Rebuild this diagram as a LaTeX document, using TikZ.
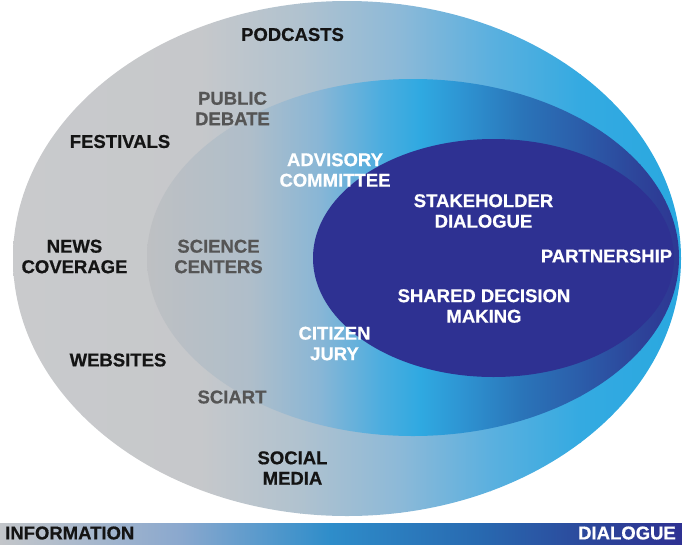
\documentclass[tikz,border=0pt]{standalone}
\usepackage{fontspec}
\setmainfont{Liberation Sans}[BoldFeatures={FakeBold=0.6}]
% palette
\definecolor{inkblack}{HTML}{141414}
\definecolor{inkgray}{HTML}{555555}
\definecolor{navy}{HTML}{2E3192}
% outer ring stops
\definecolor{oA}{HTML}{C9CACC}
\definecolor{oB}{HTML}{C6C8CB}
\definecolor{oC}{HTML}{B0C2CF}
\definecolor{oD}{HTML}{8CB9D8}
\definecolor{oE}{HTML}{5BB0DF}
\definecolor{oF}{HTML}{34AAE1}
\definecolor{oG}{HTML}{29A8E0}
% middle ring stops
\definecolor{mA}{HTML}{BEC0C3}
\definecolor{mB}{HTML}{AFBECA}
\definecolor{mC}{HTML}{88B6D6}
\definecolor{mD}{HTML}{4CADDF}
\definecolor{mE}{HTML}{2FA9E1}
\definecolor{mF}{HTML}{2E95D3}
\definecolor{mG}{HTML}{2A75B9}
\definecolor{mH}{HTML}{2B5DAA}
\definecolor{mI}{HTML}{2D4399}
\definecolor{mJ}{HTML}{2E3592}
% scale bar stops
\definecolor{bA}{HTML}{C3C6CA}
\definecolor{bB}{HTML}{8AA8CE}
\definecolor{bC}{HTML}{2E8DCA}
\definecolor{bD}{HTML}{2869B0}
\definecolor{bE}{HTML}{2C4499}
\definecolor{bF}{HTML}{2E3192}
\begin{document}
\begin{tikzpicture}[x=1pt,y=-1pt,
  lbl/.style={font=\bfseries\fontsize{18.5}{20.5}\selectfont, align=center, inner sep=0pt},
  dark/.style={lbl, text=inkblack},
  mid/.style={lbl, text=inkgray},
  light/.style={lbl, text=white}]
\useasboundingbox (0,0) rectangle (682,544);

% outer ellipse: grey to cyan
\begin{scope}
  \clip (347,258.5) ellipse [x radius=334, y radius=257.5];
  \foreach \xa/\ca/\xb/\cb in {0/oA/13/oA, 13/oA/200/oB, 200/oB/300/oC, 300/oC/400/oD,
      400/oD/490/oE, 490/oE/580/oF, 580/oF/682/oG}
    \shade[left color=\ca, right color=\cb] (\xa,-2) rectangle (\xb+1,520);
\end{scope}

% middle ellipse: grey to cyan to deep blue
\begin{scope}
  \clip (413,257.5) ellipse [x radius=266, y radius=178.5];
  \foreach \xa/\ca/\xb/\cb in {140/mA/147/mA, 147/mA/250/mB, 250/mB/320/mC, 320/mC/380/mD,
      380/mD/420/mE, 420/mE/460/mF, 460/mF/520/mG, 520/mG/580/mH, 580/mH/640/mI, 640/mI/682/mJ}
    \shade[left color=\ca, right color=\cb] (\xa,75) rectangle (\xb+1,440);
\end{scope}

% inner ellipse
\fill[navy] (493.5,258) ellipse [x radius=180.5, y radius=119];

% information-dialogue scale bar
\foreach \xa/\ca/\xb/\cb in {0/bA/180/bB, 180/bB/330/bC, 330/bC/480/bD, 480/bD/600/bE, 600/bE/682/bF}
  \shade[left color=\ca, right color=\cb] (\xa,523) rectangle ({min(\xb+1,682)},544);

% outer ring labels
\node[dark] (podcasts) at (292.5,34.5) {PODCASTS};
\node[dark] (festivals) at (120,141.5) {FESTIVALS};
\node[dark] (news) at (74.5,256.5) {NEWS\\COVERAGE};
\node[dark] (websites) at (118,360) {WEBSITES};
\node[dark] (social) at (292.5,468) {SOCIAL\\MEDIA};

% middle ring labels
\node[mid] (debate) at (232.5,108.5) {PUBLIC\\DEBATE};
\node[mid] (science) at (218.5,256.5) {SCIENCE\\CENTERS};
\node[mid] (sciart) at (232,397) {SCIART};
\node[light] (advisory) at (335,170) {ADVISORY\\COMMITTEE};
\node[light] (jury) at (334.5,343.5) {CITIZEN\\JURY};

% inner labels
\node[light] (stake) at (483.5,211) {STAKEHOLDER\\DIALOGUE};
\node[light] (partner) at (606.5,256) {PARTNERSHIP};
\node[light] (shared) at (484,306) {SHARED DECISION\\MAKING};

% scale bar labels
\node[dark, anchor=west] (info) at (5,533) {INFORMATION};
\node[light, anchor=east] (dialogue) at (676,533) {DIALOGUE};
\end{tikzpicture}
\end{document}
